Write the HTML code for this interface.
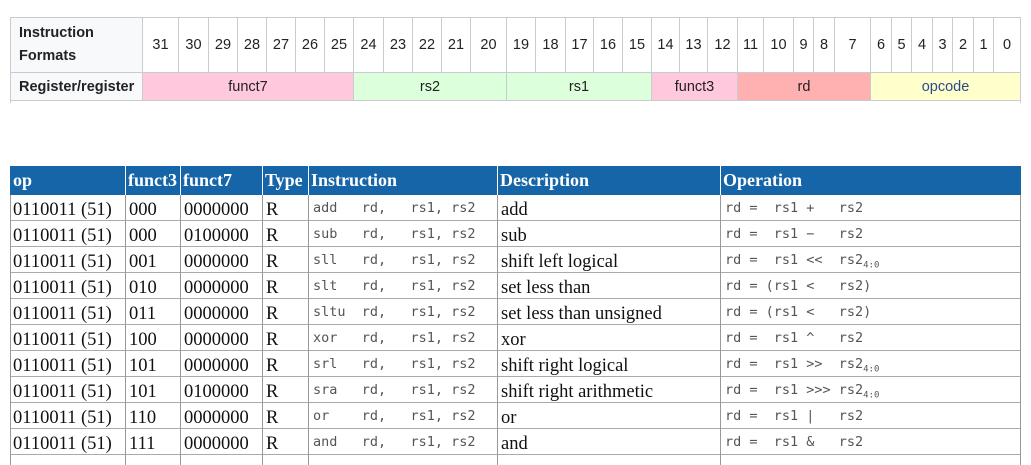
<!DOCTYPE html>
<html><head><meta charset="utf-8"><style>
body{margin:0;width:1031px;height:465px;background:#fff;position:relative;overflow:hidden}
.c{position:absolute;box-sizing:border-box;display:flex;align-items:center;justify-content:center;font-family:"Liberation Sans",sans-serif;font-size:14.5px;color:#222}
.t{position:absolute;font-family:"Liberation Serif",serif;font-size:18.5px;color:#111;white-space:pre;line-height:28px}
.m{font-family:"DejaVu Sans Mono","Liberation Mono",monospace;font-size:13.5px;color:#555;line-height:27px}
.h{position:absolute;background:#1565a8;color:#fff;font-family:"Liberation Serif",serif;font-weight:bold;font-size:18px;line-height:29px;white-space:pre}
.v{position:absolute;width:1px;background:#999}
.hl{position:absolute;height:1px;background:#aaa;left:10px;width:1011px}
sub{font-size:9px}
</style></head><body>
<div id="top"></div>
<div id="bot"></div>
<script>
var T=document.getElementById('top');
var b=[142,178,208,237,266,295,324,353,383,412,441,470,506,535,565,593,622,651,679,707,737,763,793,813,834,870,891,911,932,952,973,993,1020];
var s='';
s+='<div class="c" style="left:10px;top:17px;width:133px;height:56px;background:#f8f9fa;border:1px solid #c8ccd1;justify-content:flex-start;padding-left:8px;font-weight:bold;line-height:23px">Instruction<br>Formats</div>';
s+='<div class="c" style="left:10px;top:72px;width:133px;height:29px;background:#f8f9fa;border:1px solid #c8ccd1;justify-content:flex-start;padding-left:8px;font-weight:bold">Register/register</div>';
for(var i=0;i<32;i++){s+='<div class="c" style="left:'+b[i]+'px;top:17px;width:'+(b[i+1]-b[i]+1)+'px;height:56px;border:1px solid #c8ccd1;background:#fff">'+(31-i)+'</div>';}
var f=[[142,353,'#ffc8dc','funct7'],[353,506,'#dcffdc','rs2'],[506,651,'#dcffdc','rs1'],[651,737,'#ffc8dc','funct3'],[737,870,'#ffb0b0','rd'],[870,1020,'#ffffcc','opcode']];
f.forEach(function(x){s+='<div class="c" style="left:'+x[0]+'px;top:72px;width:'+(x[1]-x[0]+1)+'px;height:29px;border:1px solid #c8ccd1;background:'+x[2]+(x[3]=='opcode'?';color:#2a4b8d':'')+'">'+x[3]+'</div>';});
s+='<div style="position:absolute;left:10px;top:100px;width:1011px;height:3px;border-left:1px solid #c8ccd1;border-right:1px solid #c8ccd1;box-sizing:border-box"></div>';
T.innerHTML=s;
var B=document.getElementById('bot');
var cx=[10,125,180,262,308,497,720,1020];
var hd=['op','funct3','funct7','Type','Instruction','Description','Operation'];
var r='';
r+='<div class="h" style="left:10px;top:166px;width:1011px;height:29px"></div>';
for(var i=0;i<7;i++){r+='<div class="h" style="left:'+(cx[i]+3)+'px;top:166px;background:none">'+hd[i]+'</div>';if(i>0)r+='<div style="position:absolute;left:'+cx[i]+'px;top:166px;width:1px;height:29px;background:#fff"></div>';}
var rows=[['000','0000000','add ','add','rd =  rs1 +   rs2'],['000','0100000','sub ','sub','rd =  rs1 \u2212   rs2'],['001','0000000','sll ','shift left logical','rd =  rs1 &lt;&lt;  rs2<sub>4:0</sub>'],['010','0000000','slt ','set less than','rd = (rs1 &lt;   rs2)'],['011','0000000','sltu','set less than unsigned','rd = (rs1 &lt;   rs2)'],['100','0000000','xor ','xor','rd =  rs1 ^   rs2'],['101','0000000','srl ','shift right logical','rd =  rs1 &gt;&gt;  rs2<sub>4:0</sub>'],['101','0100000','sra ','shift right arithmetic','rd =  rs1 &gt;&gt;&gt; rs2<sub>4:0</sub>'],['110','0000000','or  ','or','rd =  rs1 |   rs2'],['111','0000000','and ','and','rd =  rs1 &amp;   rs2']];
rows.forEach(function(x,k){var y=195+k*26;
r+='<div class="t" style="left:13px;top:'+(y+1)+'px">0110011 (51)</div>';
r+='<div class="t" style="left:129px;top:'+(y+1)+'px">'+x[0]+'</div>';
r+='<div class="t" style="left:184px;top:'+(y+1)+'px">'+x[1]+'</div>';
r+='<div class="t" style="left:266px;top:'+(y+1)+'px">R</div>';
r+='<div class="t m" style="left:313px;top:'+y+'px">'+x[2]+'  rd,   rs1, rs2</div>';
r+='<div class="t" style="left:501px;top:'+(y+1)+'px">'+x[3]+'</div>';
r+='<div class="t m" style="left:725px;top:'+y+'px">'+x[4]+'</div>';
r+='<div class="hl" style="top:'+(y+25)+'px"></div>';
});
for(var i=0;i<8;i++){r+='<div class="v" style="left:'+cx[i]+'px;top:195px;height:270px"></div>';}
B.innerHTML=r;
</script>
</body></html>
